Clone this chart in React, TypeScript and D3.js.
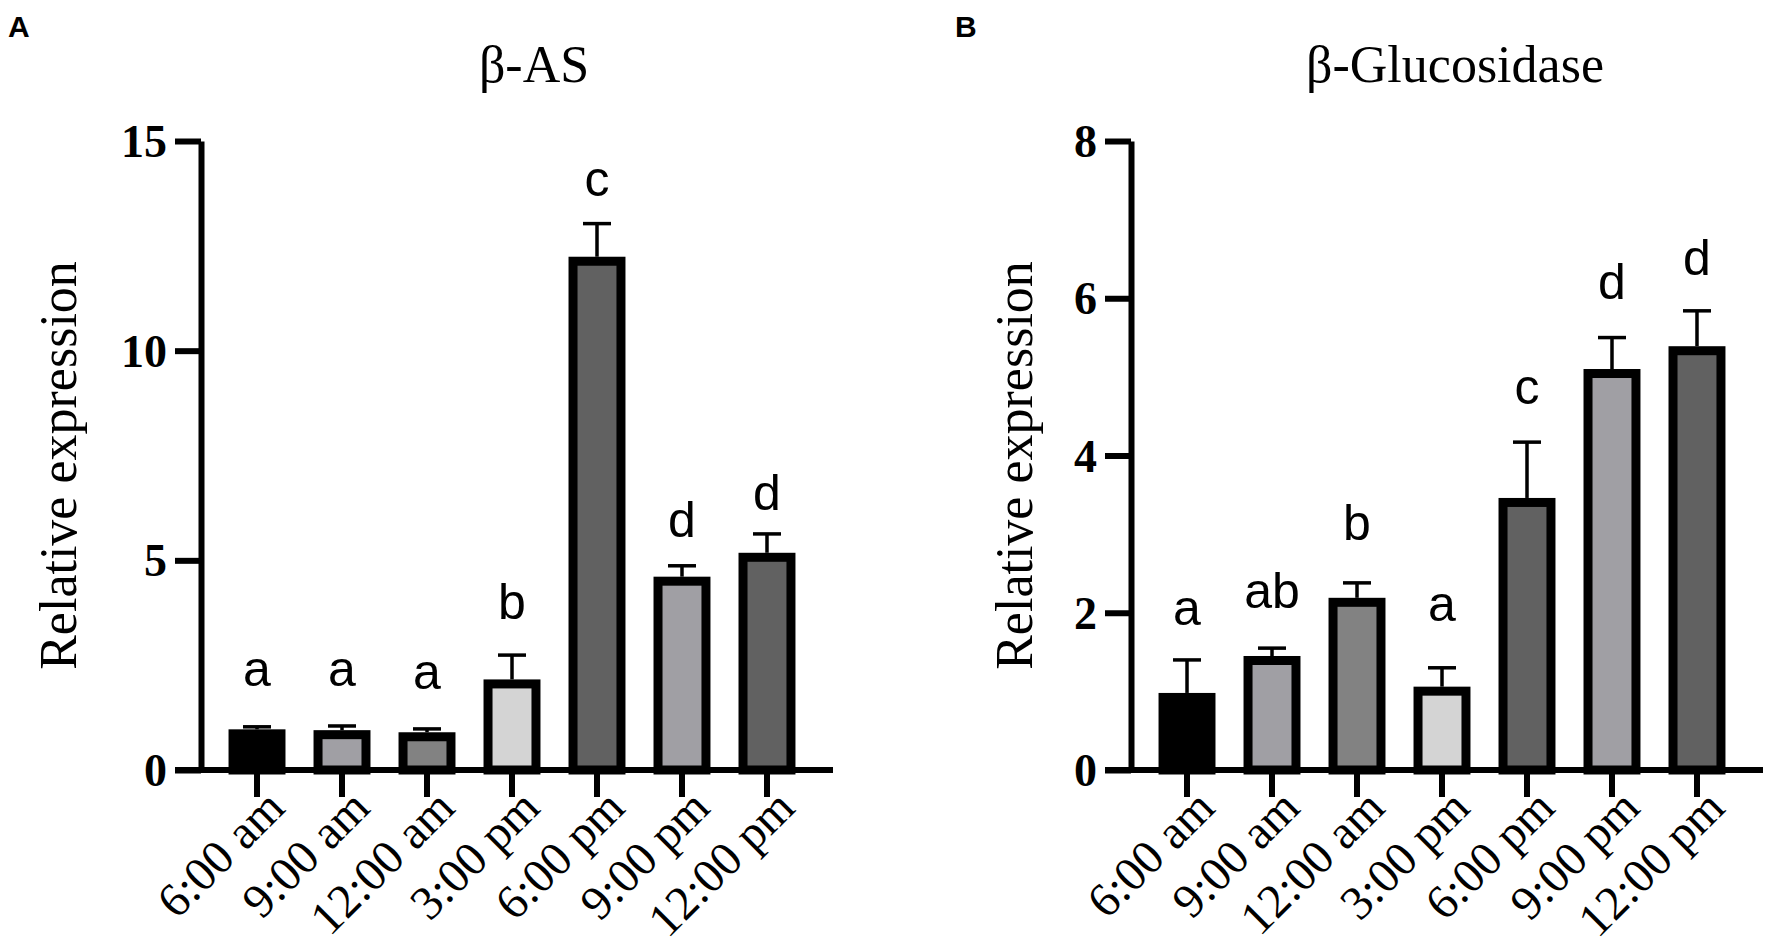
import { useEffect, useRef } from 'react';
import * as d3 from 'd3';

// categories and fills shared by both panels
const categories = ['6:00 am', '9:00 am', '12:00 am', '3:00 pm', '6:00 pm', '9:00 pm', '12:00 pm'];
const barFills = ['#000000', '#a09fa4', '#828282', '#d4d4d4', '#616161', '#a09fa4', '#616161'];

// panel A: beta-AS
const asMeans = [0.97, 0.95, 0.9, 2.16, 12.24, 4.61, 5.18];
const asErrors = [0.06, 0.1, 0.08, 0.58, 0.79, 0.26, 0.45];
const asLetters = ['a', 'a', 'a', 'b', 'c', 'd', 'd'];
const asLetterAt = [2.0, 2.0, 1.92, 3.59, 13.7, 5.56, 6.2];
const asTicks = [0, 5, 10, 15];

// panel B: beta-Glucosidase
const gluMeans = [0.98, 1.45, 2.19, 1.06, 3.46, 5.1, 5.39];
const gluErrors = [0.42, 0.1, 0.19, 0.24, 0.71, 0.4, 0.45];
const gluLetters = ['a', 'ab', 'b', 'a', 'c', 'd', 'd'];
const gluLetterAt = [1.84, 2.06, 2.93, 1.9, 4.65, 5.99, 6.3];
const gluTicks = [0, 2, 4, 6, 8];

const SERIF = '"Liberation Serif", "Times New Roman", serif';
const SANS = '"Liberation Sans", Arial, sans-serif';

interface PanelSpec {
  tag: string;
  title: string;
  means: number[];
  errors: number[];
  letters: string[];
  letterAt: number[];
  ticks: number[];
  x0: number;
  tagX: number;
  titleX: number;
  labelX: number;
}

const panels: PanelSpec[] = [
  { tag: 'A', title: 'β-AS', means: asMeans, errors: asErrors, letters: asLetters, letterAt: asLetterAt, ticks: asTicks, x0: 201, tagX: 8, titleX: 534, labelX: 76 },
  { tag: 'B', title: 'β-Glucosidase', means: gluMeans, errors: gluErrors, letters: gluLetters, letterAt: gluLetterAt, ticks: gluTicks, x0: 1131, tagX: 955, titleX: 1455, labelX: 1032 },
];

export default function App() {
  const svgRef = useRef<SVGSVGElement>(null);

  useEffect(() => {
    if (!svgRef.current) return;
    const svg = d3.select(svgRef.current);
    svg.selectAll('*').remove();

    const yBottom = 770;
    const yTop = 141;
    const tickLen = 26;
    const border = 9;

    panels.forEach((p) => {
      const g = svg.append('g');
      const ymax = p.ticks[p.ticks.length - 1];

      const x = d3.scaleBand<string>()
        .domain(categories)
        .range([p.x0, p.x0 + 622])
        .paddingInner(0.33)
        .paddingOuter(0.324);

      const y = d3.scaleLinear().domain([0, ymax]).range([yBottom, yTop]);

      // panel tag
      g.append('text')
        .attr('x', p.tagX)
        .attr('y', 37)
        .attr('font-family', SANS)
        .attr('font-weight', 'bold')
        .attr('font-size', 30)
        .text(p.tag);

      // title
      g.append('text')
        .attr('x', p.titleX)
        .attr('y', 82)
        .attr('text-anchor', 'middle')
        .attr('font-family', SERIF)
        .attr('font-size', 52)
        .text(p.title);

      // y axis title
      g.append('text')
        .attr('transform', `translate(${p.labelX},${(yTop + yBottom) / 2 + 10}) rotate(-90)`)
        .attr('text-anchor', 'middle')
        .attr('font-family', SERIF)
        .attr('font-size', 52)
        .text('Relative expression');

      // bars with upper error bars and letters
      const bars = g.append('g');
      p.means.forEach((v, i) => {
        const bx = x(categories[i]) ?? 0;
        const bw = x.bandwidth();
        bars.append('rect')
          .attr('x', bx + border / 2)
          .attr('y', y(v) + border / 2)
          .attr('width', bw - border)
          .attr('height', yBottom - y(v) - border / 2)
          .attr('fill', barFills[i])
          .attr('stroke', '#000')
          .attr('stroke-width', border);

        const cx = bx + bw / 2;
        const top = y(v + p.errors[i]);
        bars.append('line')
          .attr('x1', cx).attr('x2', cx)
          .attr('y1', y(v)).attr('y2', top)
          .attr('stroke', '#000').attr('stroke-width', 3.5);
        bars.append('line')
          .attr('x1', cx - 14).attr('x2', cx + 14)
          .attr('y1', top).attr('y2', top)
          .attr('stroke', '#000').attr('stroke-width', 3.5);

        bars.append('text')
          .attr('x', cx)
          .attr('y', y(p.letterAt[i]))
          .attr('text-anchor', 'middle')
          .attr('font-family', SANS)
          .attr('font-size', 50)
          .text(p.letters[i]);
      });

      // y axis
      const yAxis = g.append('g')
        .attr('transform', `translate(${p.x0},0)`)
        .call(d3.axisLeft(y).tickValues(p.ticks).tickSize(tickLen).tickSizeOuter(0).tickPadding(8).tickFormat(d3.format('d')));
      yAxis.select('.domain').attr('stroke', '#000').attr('stroke-width', 6);
      yAxis.selectAll('.tick line').attr('stroke', '#000').attr('stroke-width', 6);
      yAxis.selectAll('.tick text')
        .attr('fill', '#000')
        .attr('font-family', SERIF)
        .attr('font-weight', 'bold')
        .attr('font-size', 46)
        .attr('dy', '0.34em');

      // x axis baseline
      g.append('line')
        .attr('x1', p.x0 - tickLen).attr('x2', p.x0 + 632)
        .attr('y1', yBottom).attr('y2', yBottom)
        .attr('stroke', '#000').attr('stroke-width', 6);

      const xAxis = g.append('g')
        .attr('transform', `translate(0,${yBottom})`)
        .call(d3.axisBottom(x).tickSize(27).tickSizeOuter(0).tickPadding(0));
      xAxis.select('.domain').remove();
      xAxis.selectAll('.tick line').attr('stroke', '#000').attr('stroke-width', 6);
      xAxis.selectAll('.tick text')
        .attr('fill', '#000')
        .attr('font-family', SERIF)
        .attr('font-size', 48)
        .attr('text-anchor', 'end')
        .attr('dy', null)
        .attr('y', 0)
        .attr('transform', 'translate(30,40) rotate(-45)');
    });
  }, []);

  return (
    <svg
      ref={svgRef}
      width={1775}
      height={942}
      style={{ position: 'absolute', left: 0, top: 0, background: '#fff' }}
    />
  );
}
